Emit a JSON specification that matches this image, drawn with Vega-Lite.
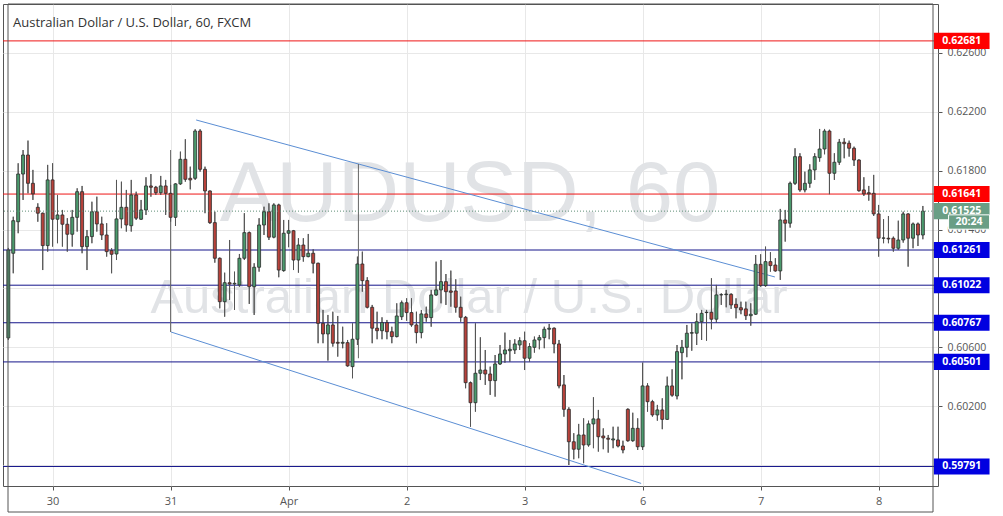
{
  "$schema": "https://vega.github.io/schema/vega-lite/v6.json",
  "width": 935,
  "height": 482,
  "autosize": "none",
  "padding": {"left": 3, "top": 4, "right": 65, "bottom": 30},
  "background": "white",
  "config": {"view": {"stroke": "#555555", "strokeWidth": 1}},
  "title": {"text": "Australian Dollar / U.S. Dollar, 60, FXCM", "anchor": "start", "frame": "group", "orient": "top", "offset": -33, "dx": 10, "dy": 3, "baseline": "alphabetic", "fontSize": 13, "fontWeight": "normal", "font": "Open Sans", "color": "#333333"},
  "datasets": {
    "candles": [
      {"i":-1,"o":0.60664,"h":0.61275,"l":0.60650,"c":0.61261},
      {"i":0,"o":0.61239,"h":0.61487,"l":0.61103,"c":0.61460},
      {"i":1,"o":0.61453,"h":0.61850,"l":0.61375,"c":0.61777},
      {"i":2,"o":0.61777,"h":0.61940,"l":0.61601,"c":0.61906},
      {"i":3,"o":0.61906,"h":0.62004,"l":0.61646,"c":0.61714},
      {"i":4,"o":0.61714,"h":0.61805,"l":0.61601,"c":0.61642},
      {"i":5,"o":0.61551,"h":0.61578,"l":0.61453,"c":0.61511},
      {"i":6,"o":0.61511,"h":0.61515,"l":0.61125,"c":0.61291},
      {"i":7,"o":0.61291,"h":0.61839,"l":0.61250,"c":0.61737},
      {"i":8,"o":0.61737,"h":0.61850,"l":0.61284,"c":0.61470},
      {"i":9,"o":0.61470,"h":0.61635,"l":0.61307,"c":0.61499},
      {"i":10,"o":0.61499,"h":0.61533,"l":0.61284,"c":0.61436},
      {"i":11,"o":0.61436,"h":0.61477,"l":0.61250,"c":0.61368},
      {"i":12,"o":0.61368,"h":0.61533,"l":0.61284,"c":0.61483},
      {"i":13,"o":0.61483,"h":0.61680,"l":0.61386,"c":0.61657},
      {"i":14,"o":0.61657,"h":0.61696,"l":0.61239,"c":0.61284},
      {"i":15,"o":0.61284,"h":0.61397,"l":0.61125,"c":0.61352},
      {"i":16,"o":0.61352,"h":0.61589,"l":0.61307,"c":0.61521},
      {"i":17,"o":0.61521,"h":0.61623,"l":0.61386,"c":0.61438},
      {"i":18,"o":0.61438,"h":0.61487,"l":0.61329,"c":0.61363},
      {"i":19,"o":0.61363,"h":0.61443,"l":0.61216,"c":0.61250},
      {"i":20,"o":0.61257,"h":0.61273,"l":0.61103,"c":0.61232},
      {"i":21,"o":0.61234,"h":0.61737,"l":0.61193,"c":0.61472},
      {"i":22,"o":0.61472,"h":0.61725,"l":0.61409,"c":0.61551},
      {"i":23,"o":0.61551,"h":0.61669,"l":0.61386,"c":0.61431},
      {"i":24,"o":0.61426,"h":0.61737,"l":0.61386,"c":0.61635},
      {"i":25,"o":0.61635,"h":0.61657,"l":0.61465,"c":0.61477},
      {"i":26,"o":0.61470,"h":0.61601,"l":0.61465,"c":0.61533},
      {"i":27,"o":0.61533,"h":0.61755,"l":0.61499,"c":0.61696},
      {"i":28,"o":0.61696,"h":0.61777,"l":0.61623,"c":0.61687},
      {"i":29,"o":0.61687,"h":0.61696,"l":0.61635,"c":0.61650},
      {"i":30,"o":0.61650,"h":0.61764,"l":0.61635,"c":0.61696},
      {"i":31,"o":0.61696,"h":0.61737,"l":0.61499,"c":0.61646},
      {"i":32,"o":0.61646,"h":0.61703,"l":0.61453,"c":0.61483},
      {"i":33,"o":0.61483,"h":0.61714,"l":0.61424,"c":0.61710},
      {"i":34,"o":0.61710,"h":0.61929,"l":0.61703,"c":0.61877},
      {"i":35,"o":0.61877,"h":0.62013,"l":0.61725,"c":0.61741},
      {"i":36,"o":0.61748,"h":0.61827,"l":0.61673,"c":0.61737},
      {"i":37,"o":0.61748,"h":0.62081,"l":0.61737,"c":0.62069},
      {"i":38,"o":0.62069,"h":0.62081,"l":0.61793,"c":0.61809},
      {"i":39,"o":0.61809,"h":0.61827,"l":0.61511,"c":0.61662},
      {"i":40,"o":0.61662,"h":0.61665,"l":0.61438,"c":0.61447},
      {"i":41,"o":0.61447,"h":0.61521,"l":0.61175,"c":0.61205},
      {"i":42,"o":0.61205,"h":0.61210,"l":0.60865,"c":0.60910},
      {"i":43,"o":0.60910,"h":0.61107,"l":0.60808,"c":0.61039},
      {"i":44,"o":0.61039,"h":0.61329,"l":0.60922,"c":0.61030},
      {"i":45,"o":0.61030,"h":0.61114,"l":0.60854,"c":0.61035},
      {"i":46,"o":0.61024,"h":0.61234,"l":0.61012,"c":0.61205},
      {"i":47,"o":0.61205,"h":0.61511,"l":0.61193,"c":0.61379},
      {"i":48,"o":0.61379,"h":0.61386,"l":0.60895,"c":0.61012},
      {"i":49,"o":0.61012,"h":0.61171,"l":0.60820,"c":0.61144},
      {"i":50,"o":0.61144,"h":0.61477,"l":0.61114,"c":0.61431},
      {"i":51,"o":0.61431,"h":0.61555,"l":0.61363,"c":0.61521},
      {"i":52,"o":0.61521,"h":0.61578,"l":0.61329,"c":0.61348},
      {"i":53,"o":0.61348,"h":0.61578,"l":0.61341,"c":0.61567},
      {"i":54,"o":0.61567,"h":0.61575,"l":0.61076,"c":0.61125},
      {"i":55,"o":0.61121,"h":0.61465,"l":0.61114,"c":0.61375},
      {"i":56,"o":0.61375,"h":0.61465,"l":0.61280,"c":0.61392},
      {"i":57,"o":0.61392,"h":0.61397,"l":0.61125,"c":0.61193},
      {"i":58,"o":0.61193,"h":0.61341,"l":0.61107,"c":0.61295},
      {"i":59,"o":0.61295,"h":0.61341,"l":0.61182,"c":0.61216},
      {"i":60,"o":0.61216,"h":0.61370,"l":0.61212,"c":0.61239},
      {"i":61,"o":0.61239,"h":0.61266,"l":0.61103,"c":0.61171},
      {"i":62,"o":0.61171,"h":0.61175,"l":0.60628,"c":0.60763},
      {"i":63,"o":0.60763,"h":0.60854,"l":0.60628,"c":0.60691},
      {"i":64,"o":0.60691,"h":0.60820,"l":0.60510,"c":0.60752},
      {"i":65,"o":0.60752,"h":0.60842,"l":0.60605,"c":0.60628},
      {"i":66,"o":0.60634,"h":0.60813,"l":0.60537,"c":0.60628},
      {"i":67,"o":0.60628,"h":0.60740,"l":0.60594,"c":0.60634},
      {"i":68,"o":0.60632,"h":0.60650,"l":0.60469,"c":0.60474},
      {"i":69,"o":0.60469,"h":0.60763,"l":0.60390,"c":0.60655},
      {"i":70,"o":0.60655,"h":0.61216,"l":0.60616,"c":0.61166},
      {"i":71,"o":0.61166,"h":0.61250,"l":0.60978,"c":0.61053},
      {"i":72,"o":0.61053,"h":0.61076,"l":0.60865,"c":0.60872},
      {"i":73,"o":0.60872,"h":0.60888,"l":0.60628,"c":0.60730},
      {"i":74,"o":0.60730,"h":0.60842,"l":0.60655,"c":0.60713},
      {"i":75,"o":0.60713,"h":0.60804,"l":0.60655,"c":0.60768},
      {"i":76,"o":0.60768,"h":0.60786,"l":0.60655,"c":0.60706},
      {"i":77,"o":0.60706,"h":0.60740,"l":0.60628,"c":0.60673},
      {"i":78,"o":0.60673,"h":0.60899,"l":0.60668,"c":0.60813},
      {"i":79,"o":0.60808,"h":0.60917,"l":0.60786,"c":0.60903},
      {"i":80,"o":0.60903,"h":0.60933,"l":0.60781,"c":0.60836},
      {"i":81,"o":0.60836,"h":0.60933,"l":0.60740,"c":0.60752},
      {"i":82,"o":0.60752,"h":0.60842,"l":0.60628,"c":0.60700},
      {"i":83,"o":0.60700,"h":0.60854,"l":0.60662,"c":0.60827},
      {"i":84,"o":0.60827,"h":0.60876,"l":0.60774,"c":0.60802},
      {"i":85,"o":0.60802,"h":0.60990,"l":0.60740,"c":0.60956},
      {"i":86,"o":0.60956,"h":0.61182,"l":0.60949,"c":0.60990},
      {"i":87,"o":0.60990,"h":0.61193,"l":0.60899,"c":0.61046},
      {"i":88,"o":0.61046,"h":0.61098,"l":0.60888,"c":0.60978},
      {"i":89,"o":0.60983,"h":0.61121,"l":0.60876,"c":0.60974},
      {"i":90,"o":0.60983,"h":0.61062,"l":0.60836,"c":0.60872},
      {"i":91,"o":0.60872,"h":0.60944,"l":0.60774,"c":0.60804},
      {"i":92,"o":0.60804,"h":0.60813,"l":0.60322,"c":0.60360},
      {"i":93,"o":0.60360,"h":0.60367,"l":0.60061,"c":0.60224},
      {"i":94,"o":0.60224,"h":0.60763,"l":0.60163,"c":0.60424},
      {"i":95,"o":0.60424,"h":0.60668,"l":0.60378,"c":0.60446},
      {"i":96,"o":0.60446,"h":0.60582,"l":0.60345,"c":0.60419},
      {"i":97,"o":0.60419,"h":0.60469,"l":0.60277,"c":0.60374},
      {"i":98,"o":0.60374,"h":0.60548,"l":0.60265,"c":0.60487},
      {"i":99,"o":0.60487,"h":0.60616,"l":0.60480,"c":0.60555},
      {"i":100,"o":0.60555,"h":0.60700,"l":0.60496,"c":0.60582},
      {"i":101,"o":0.60577,"h":0.60650,"l":0.60503,"c":0.60587},
      {"i":102,"o":0.60582,"h":0.60655,"l":0.60555,"c":0.60623},
      {"i":103,"o":0.60616,"h":0.60668,"l":0.60582,"c":0.60645},
      {"i":104,"o":0.60645,"h":0.60706,"l":0.60446,"c":0.60526},
      {"i":105,"o":0.60526,"h":0.60628,"l":0.60503,"c":0.60605},
      {"i":106,"o":0.60600,"h":0.60673,"l":0.60564,"c":0.60650},
      {"i":107,"o":0.60650,"h":0.60684,"l":0.60587,"c":0.60666},
      {"i":108,"o":0.60666,"h":0.60740,"l":0.60594,"c":0.60723},
      {"i":109,"o":0.60723,"h":0.60759,"l":0.60655,"c":0.60730},
      {"i":110,"o":0.60730,"h":0.60735,"l":0.60560,"c":0.60623},
      {"i":111,"o":0.60623,"h":0.60650,"l":0.60322,"c":0.60338},
      {"i":112,"o":0.60345,"h":0.60412,"l":0.60129,"c":0.60179},
      {"i":113,"o":0.60179,"h":0.60193,"l":0.59801,"c":0.59959},
      {"i":114,"o":0.59959,"h":0.60017,"l":0.59840,"c":0.59908},
      {"i":115,"o":0.59908,"h":0.60080,"l":0.59847,"c":0.60005},
      {"i":116,"o":0.60005,"h":0.60118,"l":0.59813,"c":0.59937},
      {"i":117,"o":0.59937,"h":0.60102,"l":0.59926,"c":0.60080},
      {"i":118,"o":0.60080,"h":0.60261,"l":0.59915,"c":0.60114},
      {"i":119,"o":0.60114,"h":0.60175,"l":0.59892,"c":0.59993},
      {"i":120,"o":0.59998,"h":0.60050,"l":0.59908,"c":0.59985},
      {"i":121,"o":0.59983,"h":0.60005,"l":0.59885,"c":0.59976},
      {"i":122,"o":0.59971,"h":0.60061,"l":0.59915,"c":0.59978},
      {"i":123,"o":0.59971,"h":0.60061,"l":0.59921,"c":0.59930},
      {"i":124,"o":0.59930,"h":0.59966,"l":0.59881,"c":0.59903},
      {"i":125,"o":0.60179,"h":0.60186,"l":0.59959,"c":0.59966},
      {"i":126,"o":0.59966,"h":0.60156,"l":0.59959,"c":0.60050},
      {"i":127,"o":0.60050,"h":0.60118,"l":0.59903,"c":0.59925},
      {"i":128,"o":0.59925,"h":0.60496,"l":0.59903,"c":0.60338},
      {"i":129,"o":0.60338,"h":0.60356,"l":0.60163,"c":0.60231},
      {"i":130,"o":0.60231,"h":0.60243,"l":0.60129,"c":0.60141},
      {"i":131,"o":0.60141,"h":0.60209,"l":0.60102,"c":0.60175},
      {"i":132,"o":0.60175,"h":0.60254,"l":0.60044,"c":0.60111},
      {"i":133,"o":0.60111,"h":0.60401,"l":0.60107,"c":0.60338},
      {"i":134,"o":0.60338,"h":0.60451,"l":0.60265,"c":0.60275},
      {"i":135,"o":0.60270,"h":0.60616,"l":0.60247,"c":0.60571},
      {"i":136,"o":0.60564,"h":0.60650,"l":0.60383,"c":0.60600},
      {"i":137,"o":0.60600,"h":0.60752,"l":0.60533,"c":0.60696},
      {"i":138,"o":0.60696,"h":0.60763,"l":0.60577,"c":0.60700},
      {"i":139,"o":0.60696,"h":0.60831,"l":0.60616,"c":0.60774},
      {"i":140,"o":0.60774,"h":0.60854,"l":0.60650,"c":0.60831},
      {"i":141,"o":0.60836,"h":0.60854,"l":0.60645,"c":0.60838},
      {"i":142,"o":0.60838,"h":0.61069,"l":0.60723,"c":0.60791},
      {"i":143,"o":0.60791,"h":0.61024,"l":0.60768,"c":0.60956},
      {"i":144,"o":0.60956,"h":0.60967,"l":0.60888,"c":0.60958},
      {"i":145,"o":0.60958,"h":0.60990,"l":0.60872,"c":0.60962},
      {"i":146,"o":0.60960,"h":0.60967,"l":0.60861,"c":0.60888},
      {"i":147,"o":0.60892,"h":0.60933,"l":0.60797,"c":0.60869},
      {"i":148,"o":0.60869,"h":0.60910,"l":0.60825,"c":0.60854},
      {"i":149,"o":0.60861,"h":0.60910,"l":0.60786,"c":0.60815},
      {"i":150,"o":0.60815,"h":0.60899,"l":0.60747,"c":0.60825},
      {"i":151,"o":0.60825,"h":0.61227,"l":0.60820,"c":0.61164},
      {"i":152,"o":0.61164,"h":0.61232,"l":0.61012,"c":0.61019},
      {"i":153,"o":0.61019,"h":0.61284,"l":0.61012,"c":0.61182},
      {"i":154,"o":0.61182,"h":0.61246,"l":0.61114,"c":0.61155},
      {"i":155,"o":0.61159,"h":0.61205,"l":0.61114,"c":0.61119},
      {"i":156,"o":0.61119,"h":0.61540,"l":0.61058,"c":0.61465},
      {"i":157,"o":0.61465,"h":0.61533,"l":0.61318,"c":0.61443},
      {"i":158,"o":0.61443,"h":0.61725,"l":0.61413,"c":0.61714},
      {"i":159,"o":0.61714,"h":0.61952,"l":0.61703,"c":0.61895},
      {"i":160,"o":0.61895,"h":0.61918,"l":0.61657,"c":0.61669},
      {"i":161,"o":0.61669,"h":0.61793,"l":0.61653,"c":0.61714},
      {"i":162,"o":0.61714,"h":0.61843,"l":0.61684,"c":0.61805},
      {"i":163,"o":0.61805,"h":0.61918,"l":0.61737,"c":0.61895},
      {"i":164,"o":0.61888,"h":0.62083,"l":0.61861,"c":0.61947},
      {"i":165,"o":0.61947,"h":0.62083,"l":0.61911,"c":0.62069},
      {"i":166,"o":0.62069,"h":0.62078,"l":0.61640,"c":0.61782},
      {"i":167,"o":0.61782,"h":0.61918,"l":0.61737,"c":0.61857},
      {"i":168,"o":0.61857,"h":0.62015,"l":0.61839,"c":0.61993},
      {"i":169,"o":0.61993,"h":0.62020,"l":0.61884,"c":0.61983},
      {"i":170,"o":0.61986,"h":0.62004,"l":0.61895,"c":0.61952},
      {"i":171,"o":0.61952,"h":0.61963,"l":0.61832,"c":0.61872},
      {"i":172,"o":0.61872,"h":0.61877,"l":0.61657,"c":0.61664},
      {"i":173,"o":0.61669,"h":0.61755,"l":0.61628,"c":0.61642},
      {"i":174,"o":0.61650,"h":0.61696,"l":0.61596,"c":0.61642},
      {"i":175,"o":0.61646,"h":0.61771,"l":0.61492,"c":0.61506},
      {"i":176,"o":0.61506,"h":0.61567,"l":0.61216,"c":0.61341},
      {"i":177,"o":0.61341,"h":0.61470,"l":0.61307,"c":0.61343},
      {"i":178,"o":0.61341,"h":0.61492,"l":0.61307,"c":0.61336},
      {"i":179,"o":0.61341,"h":0.61352,"l":0.61250,"c":0.61273},
      {"i":180,"o":0.61273,"h":0.61460,"l":0.61261,"c":0.61329},
      {"i":181,"o":0.61329,"h":0.61521,"l":0.61311,"c":0.61506},
      {"i":182,"o":0.61506,"h":0.61511,"l":0.61148,"c":0.61341},
      {"i":183,"o":0.61341,"h":0.61447,"l":0.61273,"c":0.61438},
      {"i":184,"o":0.61438,"h":0.61447,"l":0.61288,"c":0.61363},
      {"i":185,"o":0.61363,"h":0.61560,"l":0.61334,"c":0.61525}
    ],
    "levels": [
      {"p":0.62681,"kind":"red"},
      {"p":0.61641,"kind":"red"},
      {"p":0.61261,"kind":"blue"},
      {"p":0.61022,"kind":"blue"},
      {"p":0.60767,"kind":"blue"},
      {"p":0.60501,"kind":"blue"},
      {"p":0.59791,"kind":"blue"}
    ],
    "channel": [
      {"line":"upper","i":37.2,"p":0.62144},
      {"line":"upper","i":154.9,"p":0.61078},
      {"line":"lower","i":32.1,"p":0.60704},
      {"line":"lower","i":127.7,"p":0.59676}
    ],
    "verticals": [
      {"i":32,"p1":0.61940,"p2":0.60704},
      {"i":70.2,"p1":0.61845,"p2":0.60526}
    ]
  },
  "layer": [
    {
      "data": {"values": [{}]},
      "mark": {"type": "text", "text": "AUDUSD, 60", "font": "Liberation Sans", "fontSize": 85, "color": "#e1e3e6", "align": "center", "baseline": "middle"},
      "encoding": {
        "x": {"datum": 92.9, "type": "quantitative", "scale": {"domain": [-1.066, 187.06], "nice": false, "zero": false}},
        "y": {"datum": 0.61635, "type": "quantitative", "scale": {"domain": [0.596584, 0.629316], "nice": false, "zero": false}}
      }
    },
    {
      "data": {"values": [{}]},
      "mark": {"type": "text", "text": "Australian Dollar / U.S. Dollar", "font": "Liberation Sans", "fontSize": 49, "color": "#e1e3e6", "align": "center", "baseline": "middle"},
      "encoding": {
        "x": {"datum": 92.7, "type": "quantitative"},
        "y": {"datum": 0.60935, "type": "quantitative"}
      }
    },
    {
      "data": {"name": "candles"},
      "mark": {"type": "rule", "color": "#555555", "strokeWidth": 1, "clip": true},
      "encoding": {
        "x": {"field": "i", "type": "quantitative", "scale": {"domain": [-1.066, 187.06], "nice": false, "zero": false},
          "axis": {"values": [8, 32, 56, 80, 104, 128, 152, 176], "labelExpr": "['30','31','Apr','2','3','6','7','8'][round((datum.value-8)/24)]", "title": null, "grid": true, "gridColor": "#e8e8e8", "domain": false, "tickColor": "#555555", "tickSize": 4, "labelColor": "#555555", "labelFontSize": 11, "labelFont": "Open Sans", "labelPadding": 5}},
        "y": {"field": "l", "type": "quantitative", "scale": {"domain": [0.596584, 0.629316], "nice": false, "zero": false},
          "axis": {"orient": "right", "values": [0.598, 0.6, 0.602, 0.604, 0.606, 0.608, 0.61, 0.612, 0.614, 0.616, 0.618, 0.62, 0.622, 0.624, 0.626, 0.628], "format": ".5f", "title": null, "grid": true, "gridColor": "#e8e8e8", "domain": false, "tickColor": "#555555", "tickSize": 4, "labelColor": "#555555", "labelFontSize": 10.5, "labelFont": "Open Sans", "labelPadding": 5, "labelOverlap": false}},
        "y2": {"field": "h"}
      }
    },
    {
      "data": {"name": "levels"},
      "mark": {"type": "rule", "strokeWidth": 1},
      "encoding": {
        "y": {"field": "p", "type": "quantitative"},
        "color": {"condition": {"test": "datum.kind == 'red'", "value": "#ee1515"}, "value": "#14148a"}
      }
    },
    {
      "data": {"name": "channel"},
      "mark": {"type": "line", "color": "#5b8ed4", "strokeWidth": 1},
      "encoding": {
        "x": {"field": "i", "type": "quantitative"},
        "y": {"field": "p", "type": "quantitative"},
        "detail": {"field": "line"}
      }
    },
    {
      "data": {"name": "verticals"},
      "mark": {"type": "rule", "color": "#666666", "strokeWidth": 1},
      "encoding": {
        "x": {"field": "i", "type": "quantitative"},
        "y": {"field": "p1", "type": "quantitative"},
        "y2": {"field": "p2"}
      }
    },
    {
      "data": {"name": "candles"},
      "mark": {"type": "rule", "color": "#555555", "strokeWidth": 1, "clip": true},
      "encoding": {
        "x": {"field": "i", "type": "quantitative"},
        "y": {"field": "l", "type": "quantitative"},
        "y2": {"field": "h"}
      }
    },
    {
      "data": {"name": "candles"},
      "mark": {"type": "bar", "width": 3, "stroke": "#2b2b2b", "strokeWidth": 0.8, "clip": true},
      "encoding": {
        "x": {"field": "i", "type": "quantitative"},
        "y": {"field": "o", "type": "quantitative"},
        "y2": {"field": "c"},
        "fill": {"condition": {"test": "datum.c >= datum.o", "value": "#4b9a6d"}, "value": "#b8423b"}
      }
    },
    {
      "data": {"name": "candles"},
      "transform": [{"filter": "datum.i == 185"}],
      "mark": {"type": "rule", "color": "#5f8f77", "strokeWidth": 1, "strokeDash": [1, 2]},
      "encoding": {
        "y": {"field": "c", "type": "quantitative"}
      }
    },
    {
      "data": {"name": "levels"},
      "mark": {"type": "point", "shape": "M-1,-0.29L1,-0.29L1,0.29L-1,0.29Z", "size": 3100, "filled": true, "opacity": 1, "clip": false},
      "encoding": {
        "x": {"datum": 192.9, "type": "quantitative"},
        "y": {"field": "p", "type": "quantitative"},
        "color": {"condition": {"test": "datum.kind == 'red'", "value": "#ff0000"}, "value": "#0000e0"}
      }
    },
    {
      "data": {"name": "candles"},
      "transform": [{"filter": "datum.i == 185"}],
      "mark": {"type": "point", "shape": "M-1,-0.29L1,-0.29L1,0.29L-1,0.29Z", "size": 3100, "filled": true, "opacity": 1, "color": "#6a9e85", "clip": false},
      "encoding": {
        "x": {"datum": 192.9, "type": "quantitative"},
        "y": {"field": "c", "type": "quantitative"}
      }
    },
    {
      "data": {"values": [{}]},
      "mark": {"type": "point", "shape": "M-1,-0.35L1,-0.35L1,0.35L-1,0.35Z", "size": 1681, "filled": true, "opacity": 1, "color": "#6a9e85", "stroke": "white", "strokeWidth": 1, "clip": false},
      "encoding": {
        "x": {"datum": 194.4, "type": "quantitative"},
        "y": {"datum": 0.61451, "type": "quantitative"}
      }
    },
    {
      "data": {"name": "levels"},
      "mark": {"type": "text", "color": "white", "fontWeight": "bold", "font": "Open Sans", "fontSize": 10.5, "align": "center", "baseline": "middle", "clip": false},
      "encoding": {
        "x": {"datum": 192.9, "type": "quantitative"},
        "y": {"field": "p", "type": "quantitative"},
        "text": {"field": "p", "type": "quantitative", "format": ".5f"}
      }
    },
    {
      "data": {"name": "candles"},
      "transform": [{"filter": "datum.i == 185"}],
      "mark": {"type": "text", "color": "white", "fontWeight": "bold", "font": "Open Sans", "fontSize": 10.5, "align": "center", "baseline": "middle", "clip": false},
      "encoding": {
        "x": {"datum": 192.9, "type": "quantitative"},
        "y": {"field": "c", "type": "quantitative"},
        "text": {"field": "c", "type": "quantitative", "format": ".5f"}
      }
    },
    {
      "data": {"values": [{}]},
      "mark": {"type": "text", "text": "20:24", "color": "white", "fontWeight": "bold", "font": "Open Sans", "fontSize": 10.5, "align": "center", "baseline": "middle", "clip": false},
      "encoding": {
        "x": {"datum": 194.4, "type": "quantitative"},
        "y": {"datum": 0.61451, "type": "quantitative"}
      }
    },
    {
      "data": {"values": [{}]},
      "mark": {"type": "rect", "filled": false, "stroke": "#555555", "strokeWidth": 1, "clip": false},
      "encoding": {
        "x": {"datum": -1.066, "type": "quantitative"},
        "x2": {"datum": 187.06},
        "y": {"datum": 0.629316, "type": "quantitative"},
        "y2": {"datum": 0.594818}
      }
    }
  ]
}
